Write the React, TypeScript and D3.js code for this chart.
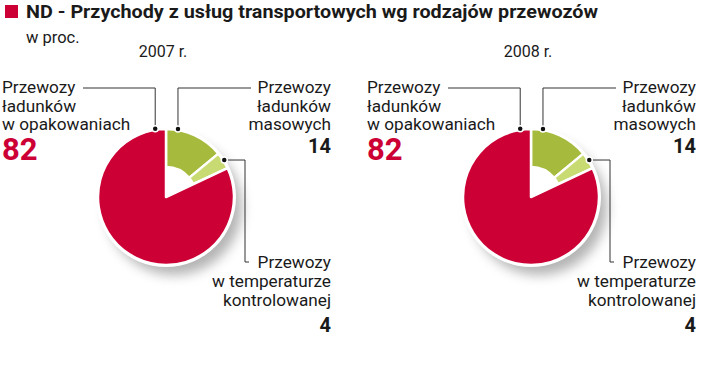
import { useMemo } from "react";
import * as d3 from "d3";

const W = 720;
const H = 371;

const title = "ND - Przychody z usług transportowych wg rodzajów przewozów";
const unit = "w proc.";
const years = ["2007 r.", "2008 r."];
const categoryLines = [
  ["Przewozy", "ładunków", "w opakowaniach"],
  ["Przewozy", "ładunków", "masowych"],
  ["Przewozy", "w temperaturze", "kontrolowanej"],
];
const values2007 = [82, 14, 4];
const values2008 = [82, 14, 4];
const seriesByYear = [values2007, values2008];

const colors = ["#cc0035", "#a6ba3d", "#c8da72"];
const RED = "#cc0035";
const FONT = "Roboto, 'Open Sans', sans-serif";

// pie starts at 12 o'clock with the small slices, red fills the rest
const drawOrder = [1, 2, 0];
const R = 68;
const greenInner = 30;
const lineY = 88;

const Pie = ({ cx, values, year }) => {
  const pieGen = d3
    .pie<number>()
    .sort(null)
    .value((i) => values[i]);
  const arcs = pieGen(drawOrder);
  const arcOf = (i) => arcs.find((a) => a.data === i);
  const mkArc = d3.arc();
  const cy = 197;
  const pt = (ang, r) => [cx + r * Math.sin(ang), cy - r * Math.cos(ang)];
  const deg = Math.PI / 180;

  const red = arcOf(0);
  const grn = arcOf(1);
  const lgt = arcOf(2);
  const pRed = pt(red.endAngle - 9 * deg, R + 1);
  const pGrn = pt(grn.startAngle + 10 * deg, R + 1);
  const pLgt = pt((lgt.startAngle + lgt.endAngle) / 2, R + 1);

  const leftX = cx - 164;
  const rightX = cx + 165;
  const lbl = { fontFamily: FONT, fontSize: 17.2, fill: "#1a1a1a" };

  return (
    <g>
      <text x={cx - 3} y={57} textAnchor="middle" style={{ fontFamily: FONT, fontSize: 16, fill: "#1a1a1a" }}>
        {year}
      </text>
      <circle cx={cx + 8} cy={cy + 10} r={R} fill="#777" opacity={0.55} filter="url(#blur)" />
      <circle cx={cx} cy={cy} r={R + 2} fill="#fff" />
      {arcs.map((a) => (
        <path
          key={a.data}
          transform={`translate(${cx},${cy})`}
          d={mkArc({
            ...a,
            innerRadius: a.data === 0 ? 0 : greenInner,
            outerRadius: R,
          })}
          fill={colors[a.data]}
          stroke="#fff"
          strokeWidth={2.5}
          strokeLinejoin="round"
        />
      ))}
      <g fill="none" stroke="#333" strokeWidth={1}>
        <polyline points={`${pRed[0]},${pRed[1]} ${pRed[0]},${lineY} ${cx - 83},${lineY}`} />
        <polyline points={`${pGrn[0]},${pGrn[1]} ${pGrn[0]},${lineY} ${cx + 85},${lineY}`} />
        <polyline
          points={`${pLgt[0]},${pLgt[1]} ${cx + 79},${pLgt[1]} ${cx + 79},262 ${cx + 83},262`}
        />
      </g>
      {[pRed, pGrn, pLgt].map((p, i) => (
        <circle key={i} cx={p[0]} cy={p[1]} r={3} fill="#111" stroke="#fff" strokeWidth={1.5} />
      ))}
      {categoryLines[0].map((t, i) => (
        <text key={i} x={leftX} y={93 + i * 18.5} style={lbl}>
          {t}
        </text>
      ))}
      <text x={leftX} y={160} style={{ fontFamily: FONT, fontSize: 31, fontWeight: 700, fill: RED }}>
        {values[0]}
      </text>
      {categoryLines[1].map((t, i) => (
        <text key={i} x={rightX} y={93 + i * 18.5} textAnchor="end" style={lbl}>
          {t}
        </text>
      ))}
      <text x={rightX} y={153} textAnchor="end" style={{ fontFamily: FONT, fontSize: 20, fontWeight: 700, fill: "#1a1a1a" }}>
        {values[1]}
      </text>
      {categoryLines[2].map((t, i) => (
        <text key={i} x={rightX} y={268 + i * 18.8} textAnchor="end" style={lbl}>
          {t}
        </text>
      ))}
      <text x={rightX} y={332} textAnchor="end" style={{ fontFamily: FONT, fontSize: 20, fontWeight: 700, fill: "#1a1a1a" }}>
        {values[2]}
      </text>
    </g>
  );
};

export default function App() {
  const centers = useMemo(() => d3.scalePoint().domain(years).range([166, 531]), []);
  return (
    <svg width={W} height={H} style={{ position: "absolute", left: 0, top: 0, background: "#fff" }}>
      <defs>
        <filter id="blur" x="-40%" y="-40%" width="180%" height="180%">
          <feGaussianBlur stdDeviation={6} />
        </filter>
      </defs>
      <rect x={5} y={5} width={13} height={13} fill={RED} />
      <text
        x={26}
        y={18}
        textLength={572}
        lengthAdjust="spacingAndGlyphs"
        style={{ fontFamily: FONT, fontSize: 19, fontWeight: 700, fill: "#1a1a1a" }}
      >
        {title}
      </text>
      <text x={26} y={43} style={{ fontFamily: FONT, fontSize: 16.5, fill: "#1a1a1a" }}>
        {unit}
      </text>
      {years.map((y, i) => (
        <Pie key={y} cx={centers(y)} values={seriesByYear[i]} year={y} />
      ))}
    </svg>
  );
}
